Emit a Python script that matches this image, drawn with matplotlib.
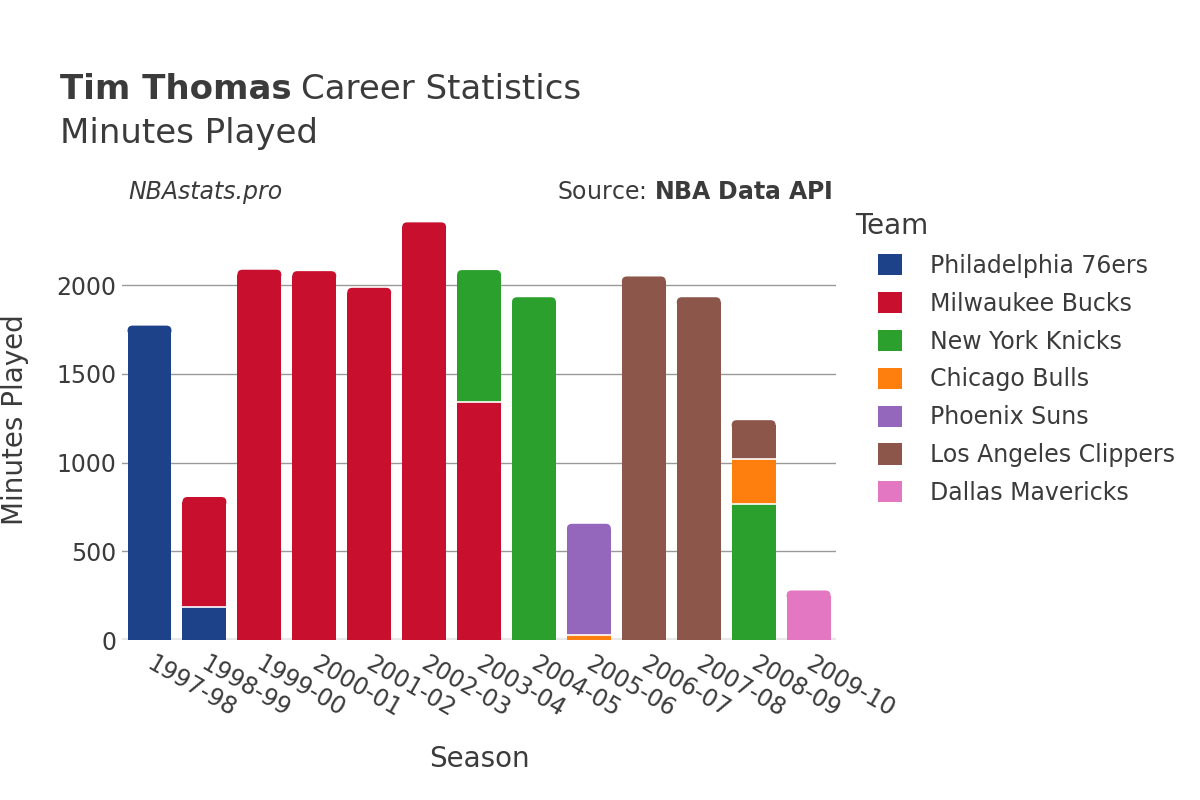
import matplotlib
matplotlib.use("Agg")
import matplotlib.pyplot as plt
from matplotlib.patches import FancyBboxPatch, Patch
from matplotlib.transforms import ScaledTranslation
import numpy as np

seasons = ["1997-98", "1998-99", "1999-00", "2000-01", "2001-02", "2002-03", "2003-04",
           "2004-05", "2005-06", "2006-07", "2007-08", "2008-09", "2009-10"]

teams = ["Philadelphia 76ers", "Milwaukee Bucks", "New York Knicks", "Chicago Bulls",
         "Phoenix Suns", "Los Angeles Clippers", "Dallas Mavericks"]
colors = ["#1d428a", "#c8102e", "#2ca02c", "#ff7f0e", "#9467bd", "#8c564b", "#e377c2"]

# minutes per season, one list per team (stacked in this order)
phi = [1772, 184, 0, 0, 0, 0, 0, 0, 0, 0, 0, 0, 0]
mil = [0, 622, 2087, 2079, 1985, 2354, 1342, 0, 0, 0, 0, 0, 0]
nyk = [0, 0, 0, 0, 0, 0, 743, 1932, 0, 0, 0, 768, 0]
chi = [0, 0, 0, 0, 0, 0, 0, 0, 28, 0, 0, 255, 0]
phx = [0, 0, 0, 0, 0, 0, 0, 0, 627, 0, 0, 0, 0]
lac = [0, 0, 0, 0, 0, 0, 0, 0, 0, 2049, 1932, 216, 0]
dal = [0, 0, 0, 0, 0, 0, 0, 0, 0, 0, 0, 0, 279]
series = [phi, mil, nyk, chi, phx, lac, dal]

TXT = "#3b3b3b"
fig = plt.figure(figsize=(12, 8), dpi=100)
AX_W, AX_H = 0.595, 0.55
ax = fig.add_axes([0.1017, 0.2, AX_W, AX_H])

x = np.arange(len(seasons))
width = 0.8
bottom = np.zeros(len(seasons))
totals = np.sum(series, axis=0)
ymax = 2480
# corner radius ~5 px expressed in data units
rx = 5 / (AX_W * 1200 / len(seasons))
ry = 5 * ymax / (AX_H * 800)

for vals, col in zip(series, colors):
    vals = np.array(vals, dtype=float)
    for i, v in enumerate(vals):
        if v <= 0:
            continue
        is_top = np.isclose(bottom[i] + v, totals[i])
        if is_top and v > 2 * ry:
            # square lower part + rounded cap
            ax.bar(x[i], v - ry, width, bottom=bottom[i], color=col,
                   linewidth=0, zorder=3)
            cap = FancyBboxPatch((x[i] - width / 2, bottom[i] + v - 2 * ry), width, 2 * ry,
                                 boxstyle=f"round,pad=0,rounding_size={rx}",
                                 mutation_aspect=ry / rx, facecolor=col,
                                 edgecolor="none", linewidth=0, zorder=3)
            ax.add_patch(cap)
        else:
            ax.bar(x[i], v, width, bottom=bottom[i], color=col,
                   linewidth=0, zorder=3)
        if bottom[i] > 0:
            ax.hlines(bottom[i], x[i] - width / 2, x[i] + width / 2,
                      color="white", linewidth=1.2, zorder=4)
    bottom += vals

ax.set_xlim(-0.5, len(seasons) - 0.5)
ax.set_ylim(0, ymax)
ax.set_yticks([0, 500, 1000, 1500, 2000])
ax.grid(axis="y", color="#999999", linewidth=1, zorder=0)
ax.axhline(0, color="#e8e8e8", linewidth=3, zorder=2)
for s in ax.spines.values():
    s.set_visible(False)
ax.tick_params(axis="y", length=0, labelsize=17, colors=TXT, pad=4)
ax.set_xticks(x)
ax.set_xticklabels(seasons, rotation=-30, ha="left", va="top", rotation_mode="anchor",
                   fontsize=17, color=TXT)
ax.tick_params(axis="x", length=0, pad=9, colors=TXT)
shift = ScaledTranslation(5 / 100, 1 / 100, fig.dpi_scale_trans)
for lab in ax.get_xticklabels():
    lab.set_transform(lab.get_transform() + shift)

ax.set_ylabel("Minutes Played", fontsize=20, color=TXT, labelpad=20)
ax.set_xlabel("Season", fontsize=20, color=TXT, labelpad=17)

fig.canvas.draw()
r = fig.canvas.get_renderer()
t1 = fig.text(0.05, 0.876, "Tim Thomas", fontsize=24.5, fontweight="bold", color=TXT,
              va="baseline")
bb = t1.get_window_extent(r)
fig.text((bb.x1 + 9) / 1200, 0.876, "Career Statistics", fontsize=24.5, color=TXT,
         va="baseline")
fig.text(0.05, 0.8215, "Minutes Played", fontsize=24.5, color=TXT, va="baseline")
fig.text(0.107, 0.751, "NBAstats.pro", fontsize=17, style="italic", color=TXT,
         va="baseline")
fig.text(0.6935, 0.751, "Source: $\\bf{NBA\\ Data\\ API}$", fontsize=17, color=TXT,
         ha="right", va="baseline")

fig.text(855 / 1200, 1 - 226 / 800, "Team", fontsize=20, color=TXT, va="center")
handles = [Patch(facecolor=c, edgecolor="none", label=t) for t, c in zip(teams, colors)]
leg = fig.legend(handles=handles, loc="upper left",
                 bbox_to_anchor=(878 / 1200, 1 - 254 / 800), frameon=False, fontsize=17,
                 handlelength=1.0, handleheight=1.0, borderpad=0, borderaxespad=0,
                 handletextpad=1.2, labelspacing=0.585, labelcolor=TXT)

fig.savefig("out.png", dpi=100)
